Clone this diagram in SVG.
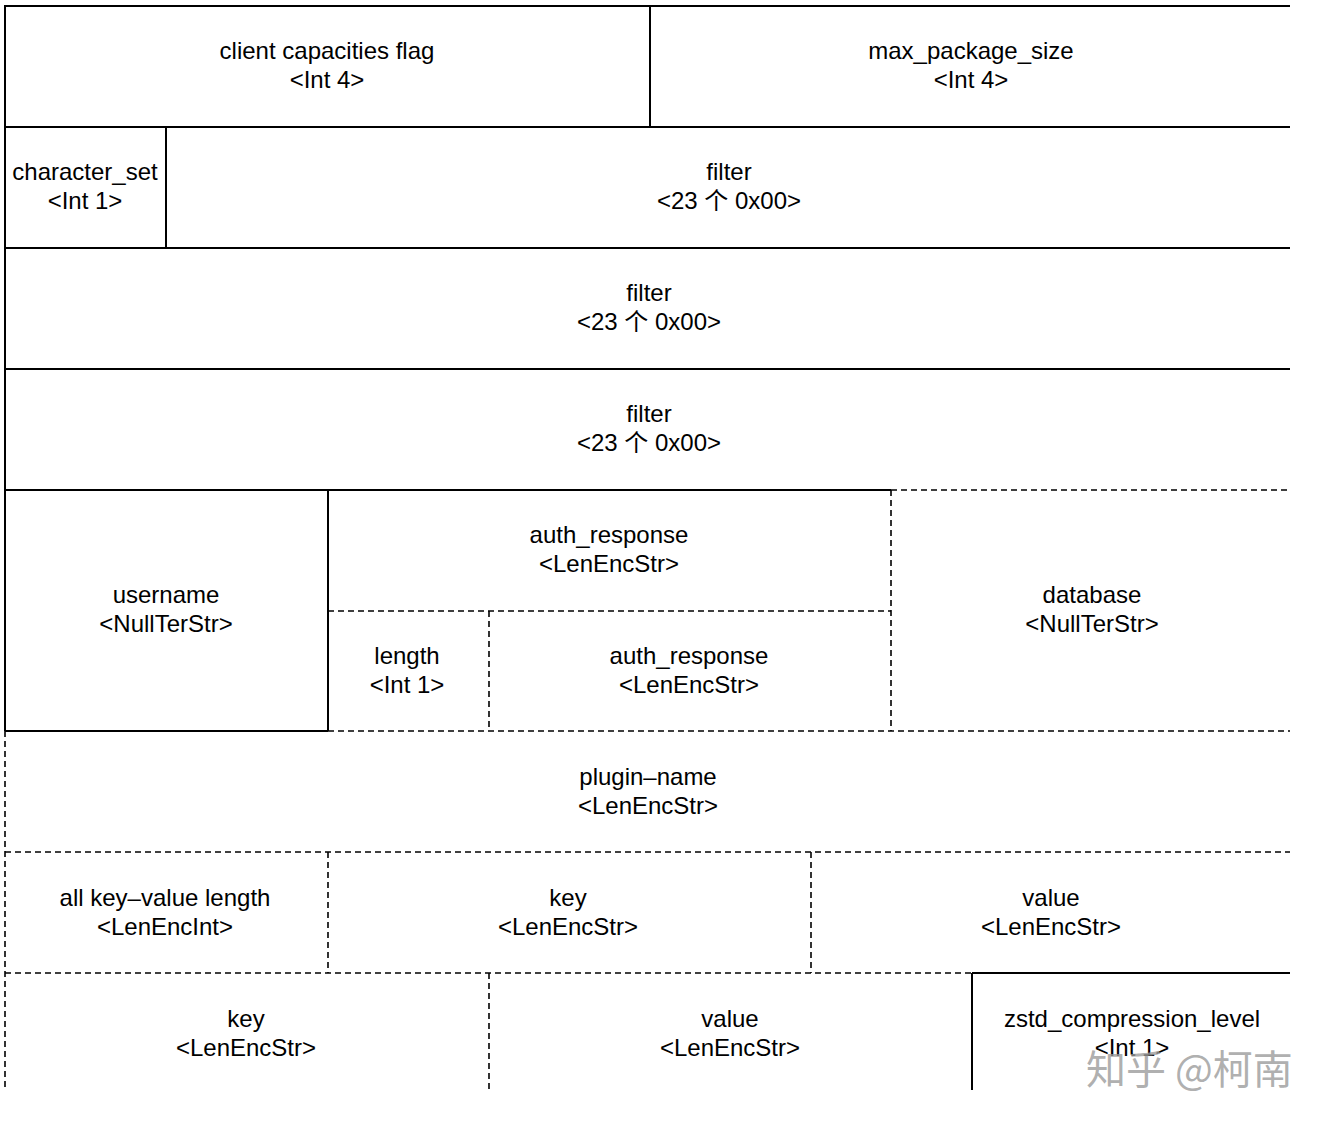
<svg xmlns="http://www.w3.org/2000/svg" width="1328" height="1124" viewBox="0 0 1328 1124">
<style>
.s{stroke:#000;stroke-width:2;fill:none}
.d{stroke:#000;stroke-width:1.6;fill:none;stroke-dasharray:6 4}
text{font-family:"Liberation Sans","Noto Sans CJK SC",Arial,sans-serif;font-size:24px;fill:#000;text-anchor:middle}
.wm{font-family:"Noto Sans CJK SC","Liberation Sans",sans-serif;font-size:40px;fill:#9a9a9a;fill-opacity:0.8;text-anchor:start}
</style>
<rect width="1328" height="1124" fill="#fff"/>
<g id="connectors">
<line class="s" x1="5" y1="6" x2="1290" y2="6"/>
<line class="s" x1="5" y1="127" x2="1290" y2="127"/>
<line class="s" x1="5" y1="248" x2="1290" y2="248"/>
<line class="s" x1="5" y1="369" x2="1290" y2="369"/>
<line class="s" x1="5" y1="490" x2="891" y2="490"/>
<line class="d" x1="891" y1="490" x2="1290" y2="490"/>
<line class="s" x1="5" y1="5" x2="5" y2="731"/>
<line class="d" x1="5" y1="731" x2="5" y2="1090"/>
<line class="s" x1="650" y1="6" x2="650" y2="127"/>
<line class="s" x1="166" y1="127" x2="166" y2="248"/>
<line class="s" x1="328" y1="490" x2="328" y2="731"/>
<line class="s" x1="5" y1="731" x2="328" y2="731"/>
<line class="d" x1="328" y1="731" x2="1290" y2="731"/>
<line class="d" x1="328" y1="611" x2="891" y2="611"/>
<line class="d" x1="489" y1="611" x2="489" y2="731"/>
<line class="d" x1="891" y1="490" x2="891" y2="731"/>
<line class="d" x1="5" y1="852" x2="1290" y2="852"/>
<line class="d" x1="328" y1="852" x2="328" y2="973"/>
<line class="d" x1="811" y1="852" x2="811" y2="973"/>
<line class="d" x1="5" y1="973" x2="972" y2="973"/>
<line class="s" x1="972" y1="973" x2="1290" y2="973"/>
<line class="d" x1="489" y1="973" x2="489" y2="1090"/>
<line class="s" x1="972" y1="973" x2="972" y2="1090"/>
</g>
<g id="n-client-cap"><text x="327" y="59">client capacities flag</text><text x="327" y="88">&lt;Int 4&gt;</text></g>
<g id="n-max-pkg"><text x="971" y="59">max_package_size</text><text x="971" y="88">&lt;Int 4&gt;</text></g>
<g id="n-charset"><text x="85" y="180">character_set</text><text x="85" y="209">&lt;Int 1&gt;</text></g>
<g id="n-filter1"><text x="729" y="180">filter</text><text x="729" y="209">&lt;23 个 0x00&gt;</text></g>
<g id="n-filter2"><text x="649" y="301">filter</text><text x="649" y="330">&lt;23 个 0x00&gt;</text></g>
<g id="n-filter3"><text x="649" y="422">filter</text><text x="649" y="451">&lt;23 个 0x00&gt;</text></g>
<g id="n-username"><text x="166" y="603">username</text><text x="166" y="632">&lt;NullTerStr&gt;</text></g>
<g id="n-auth1"><text x="609" y="543">auth_response</text><text x="609" y="572">&lt;LenEncStr&gt;</text></g>
<g id="n-length"><text x="407" y="664">length</text><text x="407" y="693">&lt;Int 1&gt;</text></g>
<g id="n-auth2"><text x="689" y="664">auth_response</text><text x="689" y="693">&lt;LenEncStr&gt;</text></g>
<g id="n-database"><text x="1092" y="603">database</text><text x="1092" y="632">&lt;NullTerStr&gt;</text></g>
<g id="n-plugin"><text x="648" y="785">plugin–name</text><text x="648" y="814">&lt;LenEncStr&gt;</text></g>
<g id="n-kvlen"><text x="165" y="906">all key–value length</text><text x="165" y="935">&lt;LenEncInt&gt;</text></g>
<g id="n-key1"><text x="568" y="906">key</text><text x="568" y="935">&lt;LenEncStr&gt;</text></g>
<g id="n-value1"><text x="1051" y="906">value</text><text x="1051" y="935">&lt;LenEncStr&gt;</text></g>
<g id="n-key2"><text x="246" y="1027">key</text><text x="246" y="1056">&lt;LenEncStr&gt;</text></g>
<g id="n-value2"><text x="730" y="1027">value</text><text x="730" y="1056">&lt;LenEncStr&gt;</text></g>
<g id="n-zstd"><text x="1132" y="1027">zstd_compression_level</text><text x="1132" y="1056">&lt;Int 1&gt;</text></g>
<text class="wm" x="1086" y="1084">知乎 @柯南</text>
</svg>
